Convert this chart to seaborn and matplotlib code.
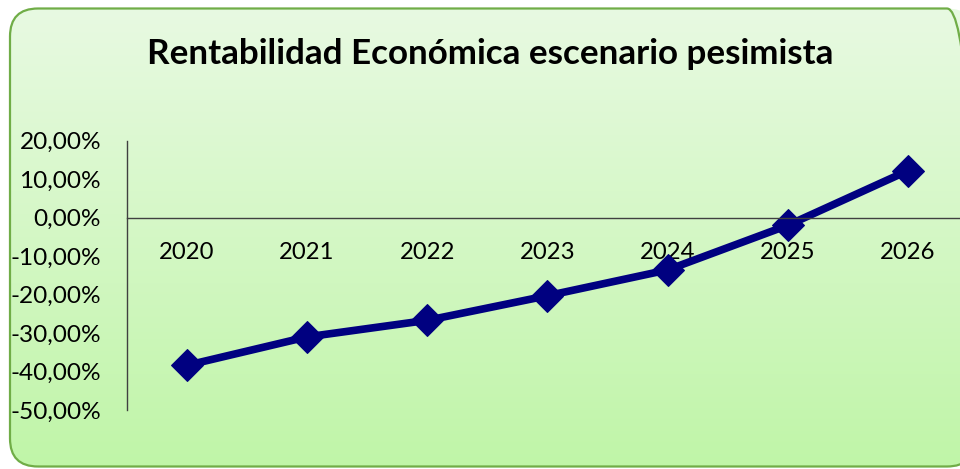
import matplotlib.pyplot as plt
import numpy as np
import pandas as pd
import seaborn as sns
from matplotlib.patches import FancyBboxPatch
from matplotlib.ticker import FuncFormatter

# Rentabilidad economica, escenario pesimista (%)
years = ["2020", "2021", "2022", "2023", "2024", "2025", "2026"]
rentabilidad = [-38.4, -31.0, -26.7, -20.3, -13.6, -2.0, 12.2]
yticks = [20, 10, 0, -10, -20, -30, -40, -50]

df = pd.DataFrame({"anio": years, "re": rentabilidad})

sns.set_style("white")
plt.rcParams['font.family'] = ['Lato', 'DejaVu Sans']

W, H = 960, 469
fig = plt.figure(figsize=(9.6, 4.69), dpi=100)
fig.patch.set_facecolor("white")

# background with rounded green border and vertical gradient
bg = fig.add_axes([0, 0, 1, 1])
bg.set_xlim(0, W)
bg.set_ylim(0, H)
bg.axis("off")
grad = np.linspace(0, 1, 256).reshape(-1, 1)
top = np.array([232, 250, 226]) / 255
bot = np.array([192, 245, 168]) / 255
img = top + (bot - top) * grad[:, :, None]
box = FancyBboxPatch((10, 2.5), 965, 458, boxstyle="round,pad=0,rounding_size=28",
                     facecolor="none", edgecolor="#70ad47", linewidth=1.6, zorder=3)
bg.add_patch(box)
im = bg.imshow(img, extent=(10, 975, 2.5, 460.5), aspect="auto", origin="upper", zorder=1)
im.set_clip_path(box)

fig.text(490 / W, 1 - 54 / H, "Rentabilidad Económica escenario pesimista",
         ha="center", va="center", fontsize=25.2, fontweight="bold", color="black")

ax = fig.add_axes([126.7 / W, (H - 410) / H, (968 - 126.7) / W, (410 - 140.7) / H])
ax.set_facecolor("none")
sns.lineplot(data=df, x="anio", y="re", ax=ax, color="#000080", linewidth=5.5,
             marker="D", markersize=16, markeredgecolor="#000080", sort=False)

ax.set_xlim(-0.5, 6.5)
ax.set_ylim(-50, 20)
ax.set_yticks(yticks)
ax.yaxis.set_major_formatter(FuncFormatter(lambda v, p: f"{v:.2f}%".replace(".", ",")))
ax.set_xlabel("")
ax.set_ylabel("")

for s in ["top", "right"]:
    ax.spines[s].set_visible(False)
ax.spines["bottom"].set_position(("data", 0))
ax.spines["bottom"].set_color("#404040")
ax.spines["left"].set_color("#404040")
ax.spines["bottom"].set_linewidth(1.0)
ax.spines["left"].set_linewidth(1.0)
ax.tick_params(axis="y", length=0, pad=18.5, labelsize=17.6, labelcolor="black")
ax.tick_params(axis="x", length=0, pad=17.5, labelsize=17.2, labelcolor="black")

fig.savefig("out.png", dpi=100)
